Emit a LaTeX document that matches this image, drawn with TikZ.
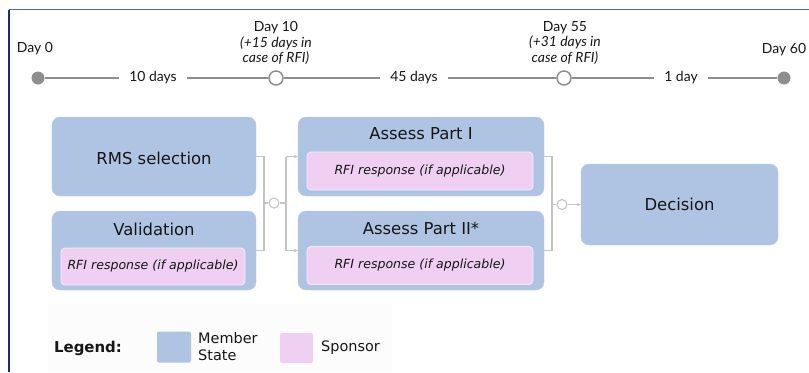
\documentclass[tikz,border=0pt]{standalone}
\usepackage{fontspec}
\setmainfont{Lato}
\newfontfamily\boxfont{DejaVu Sans}
\usetikzlibrary{arrows.meta}
\definecolor{msblue}{HTML}{AFC4E3}
\definecolor{sppink}{HTML}{EFD0F2}
\definecolor{tlgray}{HTML}{8E8E8E}
\definecolor{cngray}{HTML}{C4C4C4}
\definecolor{frtop}{HTML}{4A68AE}
\definecolor{frleft}{HTML}{1C2A7E}
\definecolor{txt}{HTML}{161616}
\tikzset{
  mbox/.style={fill=msblue, draw=msblue!85!white, rounded corners=8bp, inner sep=0pt},
  pbox/.style={fill=sppink, draw=white!60!sppink, line width=0.8bp, rounded corners=4bp, inner sep=0pt,
    font=\boxfont\fontsize{12.6}{15}\selectfont\itshape, text=txt},
  ttl/.style={font=\boxfont\fontsize{16.5}{20}\selectfont, text=txt, inner sep=0pt},
  dotf/.style={circle, fill=tlgray, minimum size=13bp, inner sep=0pt},
  doto/.style={circle, fill=white, draw=tlgray, line width=1.5bp, minimum size=14bp, inner sep=0pt},
  tline/.style={draw=tlgray, line width=1.2bp},
  tlab/.style={font=\fontsize{14}{16}\selectfont, text=txt, inner xsep=10bp, inner ysep=2bp},
  dlab/.style={font=\fontsize{14}{16}\selectfont, text=txt, align=center, inner sep=0pt},
  conn/.style={draw=cngray, line width=1.1bp},
  jc/.style={circle, draw=cngray, fill=white, line width=1.1bp, minimum size=10bp, inner sep=0pt},
  arr/.style={conn, -{Stealth[length=4bp,width=3.5bp]}},
  leg/.style={font=\boxfont\fontsize{14.5}{17}\selectfont, text=txt, inner sep=0pt, align=left},
}
\begin{document}
\begin{tikzpicture}[x=1bp,y=-1bp]
\useasboundingbox (0,0) rectangle (809,372);
\fill[white] (0,0) rectangle (809,372);
% frame
\fill[black!1.2] (48,304) rectangle (392,372);
\draw[frtop, line width=1.5bp] (9,9.5) -- (809,9.5);
\draw[frleft, line width=1.5bp] (9,9.5) -- (9,372);

% timeline
\node[dotf] (d0) at (38,78) {};
\node[doto] (d10) at (276,78) {};
\node[doto] (d55) at (564,78) {};
\node[dotf] (d60) at (784,78) {};
\node[tlab] (l10) at (153,78) {10 days};
\node[tlab] (l45) at (414,78) {45 days};
\node[tlab] (l1) at (681,78) {1 day};
\draw[tline] (d0) -- (l10);
\draw[tline] (l10) -- (d10);
\draw[tline] (d10) -- (l45);
\draw[tline] (l45) -- (d55);
\draw[tline] (d55) -- (l1);
\draw[tline] (l1) -- (d60);
\node[dlab] (t0) at (35,49) {Day 0};
\node[dlab] (t10) at (276,43) {Day 10\\\textit{(+15 days in}\\\textit{case of RFI)}};
\node[dlab] (t55) at (565,43) {Day 55\\\textit{(+31 days in}\\\textit{case of RFI)}};
\node[dlab] (t60) at (784,50) {Day 60};

% boxes
\node[mbox, minimum width=204bp, minimum height=79bp] (rms) at (154,156.5) {};
\node[ttl] (rmst) at (154,158) {RMS selection};
\node[mbox, minimum width=204bp, minimum height=79bp] (val) at (154,250.5) {};
\node[ttl] (valt) at (154,229) {Validation};
\node[pbox, minimum width=184bp, minimum height=37bp] (valp) at (153,266.5) {RFI response (if applicable)};

\node[mbox, minimum width=246bp, minimum height=79bp] (a1) at (421,156.5) {};
\node[ttl] (a1t) at (421,134) {Assess Part I};
\node[pbox, minimum width=226bp, minimum height=38bp] (a1p) at (420,171) {RFI response (if applicable)};
\node[mbox, minimum width=246bp, minimum height=79bp] (a2) at (421,250.5) {};
\node[ttl] (a2t) at (421,229) {Assess Part II*};
\node[pbox, minimum width=226bp, minimum height=38bp] (a2p) at (420,265.5) {RFI response (if applicable)};

\node[mbox, minimum width=197bp, minimum height=81bp] (dec) at (679.5,204.5) {};
\node[ttl] (dect) at (dec.center) {Decision};

% connectors 1
\coordinate (b1t) at (264,156.5);
\coordinate (b1b) at (264,250.5);
\coordinate (b1m) at (264,203);
\node[jc] (c1) at (274,203) {};
\coordinate (s1m) at (286,203);
\coordinate (s1t) at (286,156.5);
\coordinate (s1b) at (286,250.5);
\draw[conn] (rms.east) -- (b1t) -- (b1b) -- (val.east);
\draw[conn] (b1m) -- (c1);
\draw[conn] (c1) -- (s1m);
\draw[conn] (s1t) -- (s1b);
\draw[arr] (s1t) -- (a1.west);
\draw[arr] (s1b) -- (a2.west);

% connectors 2
\coordinate (b2t) at (552,156.5);
\coordinate (b2b) at (552,250.5);
\coordinate (b2m) at (552,204.5);
\node[jc] (c2) at (562,204.5) {};
\draw[conn] (a1.east) -- (b2t) -- (b2b) -- (a2.east);
\draw[conn] (b2m) -- (c2);
\draw[arr] (c2) -- (dec.west);

% legend
\node[leg, font=\boxfont\bfseries\fontsize{15}{17}\selectfont] (legt) at (88,348) {Legend:};
\node[fill=msblue, rounded corners=2bp, minimum width=34bp, minimum height=31bp, inner sep=0pt] (lgb) at (174,347) {};
\node[leg, anchor=west] (lgbt) at (198,347) {Member\\State};
\node[fill=sppink, rounded corners=2bp, minimum width=33bp, minimum height=30bp, inner sep=0pt] (lgp) at (296.5,348) {};
\node[leg, anchor=west] (lgpt) at (321,348) {Sponsor};
\end{tikzpicture}
\end{document}
